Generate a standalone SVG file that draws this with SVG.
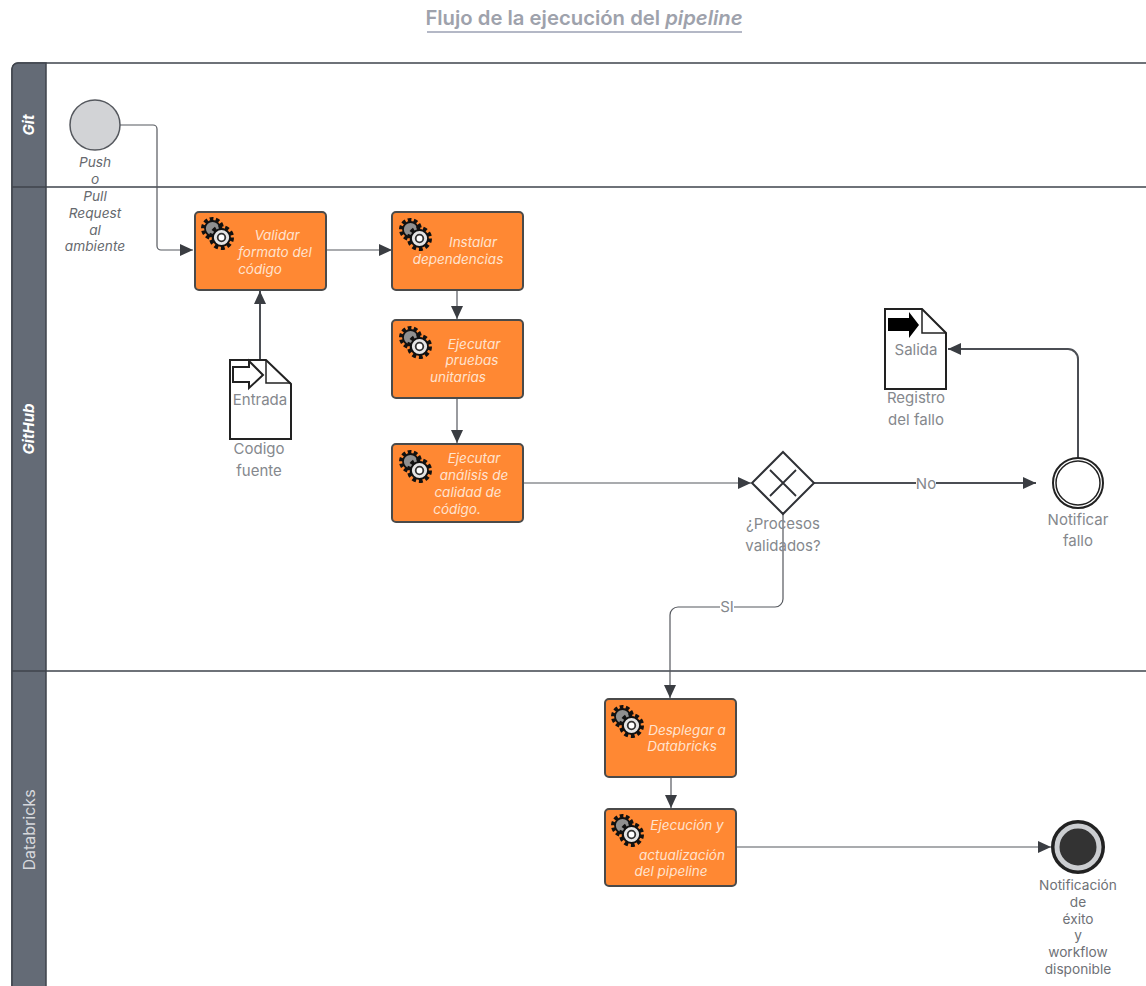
<svg xmlns="http://www.w3.org/2000/svg" width="1146" height="986" viewBox="0 0 1146 986">
<style>
text{font-family:Inter,"Liberation Sans",sans-serif}
.lane{fill:#fff;stroke:#3f444c;stroke-width:1.5}
.head{fill:#646b76;stroke:#3f444c;stroke-width:1.5}
.ht{fill:#fff;font-size:15px;text-anchor:middle}
.task{fill:#ff8833;stroke:#4a4a4a;stroke-width:2}
.tt{fill:#ffe3cf;font-size:13.5px;font-style:italic;text-anchor:middle}
.lb{fill:#85888d;font-size:15px;text-anchor:middle}
.sm{fill:#6e7176;font-size:13.7px;text-anchor:middle}
.it{fill:#66696e;font-size:13.7px;font-style:italic;text-anchor:middle}
.c{fill:none;stroke:#55585e;stroke-width:1.2}
.c2{fill:none;stroke:#4b4e54;stroke-width:2}
.doc{fill:#fff;stroke:#222;stroke-width:2}
</style>
<defs>
<marker id="a" markerUnits="userSpaceOnUse" markerWidth="14" markerHeight="12" refX="13" refY="6" orient="auto"><path d="M0 0L13 6L0 12Z" fill="#3a3d42"/></marker>
<g id="gear">
<circle cx="9.5" cy="9.5" r="9.5" fill="none" stroke="#111" stroke-width="4" stroke-dasharray="3.6 2.37"/>
<circle cx="9.5" cy="9.5" r="7.5" fill="#8f8f8f" stroke="#111" stroke-width="1.8"/>
<circle cx="18.5" cy="18.5" r="10.5" fill="none" stroke="#111" stroke-width="4" stroke-dasharray="3.8 2.8"/>
<circle cx="18.5" cy="18.5" r="8.5" fill="#e4e4e4" stroke="#111" stroke-width="1.8"/>
<circle cx="18.5" cy="18.5" r="3.8" fill="#fff" stroke="#333" stroke-width="1.8"/>
</g>
</defs>
<rect width="1146" height="986" fill="#fff"/>
<g id="title"><text x="584" y="25" text-anchor="middle" font-size="20.3" font-weight="600" fill="#9ea2ac">Flujo de la ejecución del <tspan font-style="italic">pipeline</tspan></text><rect x="427" y="31" width="315" height="2" fill="#b4b8c6"/></g>
<g id="lanes">
<path class="lane" d="M1147 63H18a6 6 0 0 0-6 6V987H1147"/>
<path class="head" d="M46 63H18a6 6 0 0 0-6 6V987H46Z"/>
<path class="lane" d="M12 187H1147M12 671H1147" fill="none"/>
<text class="ht" font-weight="700" font-style="italic" transform="translate(34 125) rotate(-90)">Git</text>
<text class="ht" font-weight="700" font-style="italic" transform="translate(34 429) rotate(-90)">GitHub</text>
<text class="ht" style="fill:#d6d8dc;font-size:16px" transform="translate(35 830) rotate(-90)">Databricks</text>
</g>
<g id="connectors">
<path class="c" d="M120 125H153a4 4 0 0 1 4 4V246a4 4 0 0 0 4 4H193" marker-end="url(#a)"/>
<path class="c" d="M326 250H392" marker-end="url(#a)"/>
<path class="c2" d="M260 359V291" marker-end="url(#a)"/>
<path class="c" d="M457 290V319" marker-end="url(#a)"/>
<path class="c" d="M457 398V443" marker-end="url(#a)"/>
<path class="c" d="M523 483H751" marker-end="url(#a)"/>
<path class="c2" d="M814 483H1036" marker-end="url(#a)"/>
<path class="c2" d="M1078 458V359a10 10 0 0 0-10-10H948" marker-end="url(#a)"/>
<path class="c" d="M783 514V599a8 8 0 0 1-8 8H678a8 8 0 0 0-8 8V698" marker-end="url(#a)"/>
<path class="c" d="M671 777V808" marker-end="url(#a)"/>
<path class="c" d="M736 847H1051" marker-end="url(#a)"/>
<rect x="916" y="475" width="20" height="16" fill="#fff"/>
<text class="lb" x="926" y="489">No</text>
<rect x="720" y="600" width="14" height="14" fill="#fff"/>
<text class="lb" x="727" y="612">SI</text>
</g>
<g id="start"><circle cx="95" cy="125" r="25" fill="#d2d3d6" stroke="#55585e" stroke-width="1.5"/>
<text class="it"><tspan x="95" y="167">Push</tspan><tspan x="95" y="184">o</tspan><tspan x="95" y="201">Pull</tspan><tspan x="95" y="218">Request</tspan><tspan x="95" y="235">al</tspan><tspan x="95" y="251">ambiente</tspan></text></g>
<g id="validar"><rect class="task" x="195" y="212" width="131" height="78" rx="4"/><use href="#gear" x="203" y="219"/><text class="tt"><tspan x="277" y="240">Validar</tspan><tspan x="275" y="257">formato del</tspan><tspan x="260" y="274">código</tspan></text></g>
<g id="instalar"><rect class="task" x="392" y="212" width="131" height="78" rx="4"/><use href="#gear" x="401" y="220"/><text class="tt"><tspan x="473" y="247">Instalar</tspan><tspan x="458" y="264">dependencias</tspan></text></g>
<g id="pruebas"><rect class="task" x="392" y="320" width="131" height="78" rx="4"/><use href="#gear" x="401" y="328"/><text class="tt"><tspan x="474" y="349">Ejecutar</tspan><tspan x="472" y="365">pruebas</tspan><tspan x="458" y="382">unitarias</tspan></text></g>
<g id="analisis"><rect class="task" x="392" y="444" width="131" height="78" rx="4"/><use href="#gear" x="401" y="452"/><text class="tt"><tspan x="474" y="463">Ejecutar</tspan><tspan x="474" y="480">análisis de</tspan><tspan x="468" y="497">calidad de</tspan><tspan x="457" y="514">código.</tspan></text></g>
<g id="desplegar"><rect class="task" x="605" y="699" width="131" height="78" rx="4"/><use href="#gear" x="613" y="707"/><text class="tt"><tspan x="687" y="735">Desplegar a</tspan><tspan x="682" y="751">Databricks</tspan></text></g>
<g id="ejecucion"><rect class="task" x="605" y="809" width="131" height="77" rx="4"/><use href="#gear" x="613" y="816"/><text class="tt"><tspan x="687" y="830">Ejecución y</tspan><tspan x="682" y="860">actualización</tspan><tspan x="671" y="876">del pipeline</tspan></text></g>
<g id="entrada"><path class="doc" d="M230 360H266L291 384V439H230Z"/><path d="M266 360V383H291" fill="none" stroke="#222" stroke-width="1.5"/><path d="M233 367H249V361L263 375L249 388V382H233Z" fill="#fff" stroke="#222" stroke-width="2"/>
<text class="lb"><tspan x="260" y="405">Entrada</tspan><tspan x="259" y="454">Codigo</tspan><tspan x="259" y="476">fuente</tspan></text></g>
<g id="salida"><path class="doc" d="M885 309H922L946 333V389H885Z"/><path d="M922 309V333H946" fill="none" stroke="#222" stroke-width="1.5"/><path d="M888 318H909V312L919 325L909 338V331H888Z" fill="#000"/>
<text class="lb"><tspan x="916" y="355">Salida</tspan><tspan x="916" y="403">Registro</tspan><tspan x="916" y="425">del fallo</tspan></text></g>
<g id="gateway"><path d="M783 452L814 483L783 514L752 483Z" fill="#fff" stroke="#2f3136" stroke-width="2"/><path d="M770 470L796 496M796 470L770 496" stroke="#2f3136" stroke-width="1.8"/>
<text class="lb"><tspan x="783" y="529">¿Procesos</tspan><tspan x="783" y="551">validados?</tspan></text></g>
<g id="notificar"><circle cx="1078" cy="483" r="25" fill="#fff" stroke="#222" stroke-width="2"/><circle cx="1078" cy="483" r="22" fill="#fff" stroke="#222" stroke-width="1.5"/>
<text class="lb"><tspan x="1078" y="525">Notificar</tspan><tspan x="1078" y="546">fallo</tspan></text></g>
<g id="exito"><circle cx="1078" cy="847" r="25" fill="#333" stroke="#222" stroke-width="4"/><circle cx="1078" cy="847" r="21" fill="#333" stroke="#ccced1" stroke-width="5"/>
<text class="sm"><tspan x="1078" y="890">Notificación</tspan><tspan x="1078" y="907">de</tspan><tspan x="1078" y="924">éxito</tspan><tspan x="1078" y="940">y</tspan><tspan x="1078" y="957">workflow</tspan><tspan x="1078" y="974">disponible</tspan></text></g>
</svg>
